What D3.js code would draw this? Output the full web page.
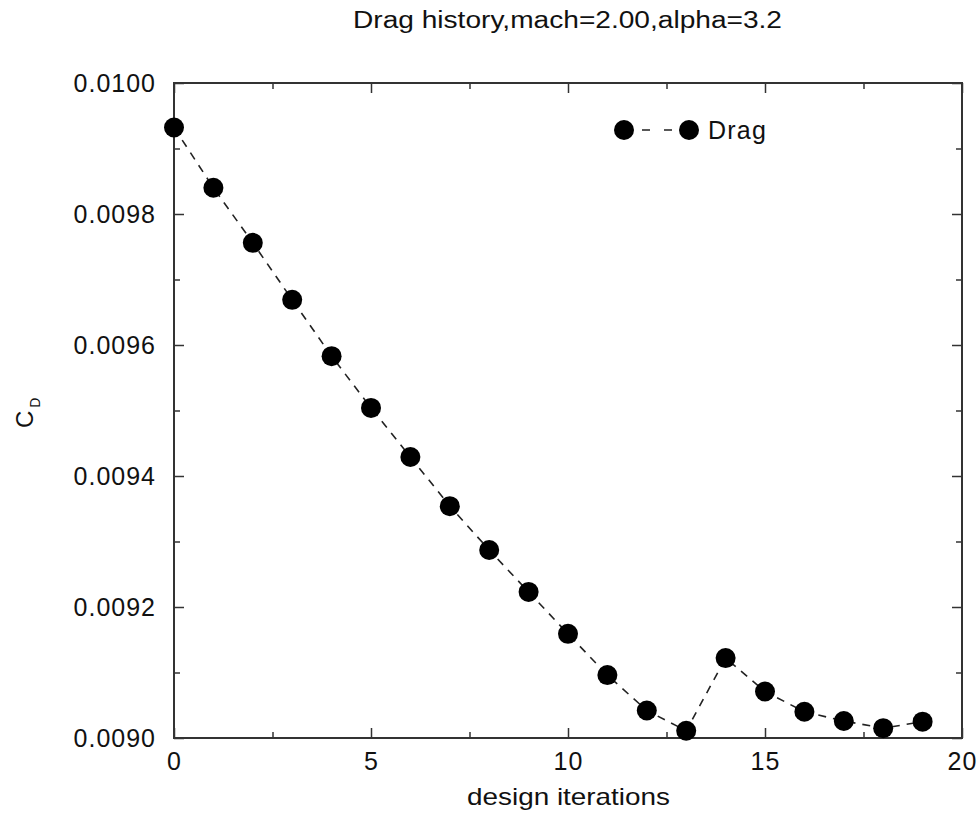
<!DOCTYPE html>
<html>
<head>
<meta charset="utf-8">
<script src="https://cdn.jsdelivr.net/npm/d3@7"></script>
<style>
  html, body { margin: 0; padding: 0; background: #fff; }
  svg { display: block; }
  text { font-family: "Liberation Sans", Arial, Helvetica, sans-serif; fill: #111; }
</style>
</head>
<body>
<svg id="chart" width="978" height="814"></svg>
<script>
// Drag coefficient per design iteration
const iterations = [0, 1, 2, 3, 4, 5, 6, 7, 8, 9, 10, 11, 12, 13, 14, 15, 16, 17, 18, 19];
const dragValues = [0.009932, 0.009840, 0.009756, 0.009669, 0.009583, 0.009504, 0.009429,
                    0.009354, 0.009287, 0.009223, 0.009159, 0.009096, 0.009042, 0.009011,
                    0.009122, 0.009071, 0.009040, 0.009026, 0.009015, 0.009025];
const xMajorTicks = [0, 5, 10, 15, 20];
const xMinorTicks = [2.5, 7.5, 12.5, 17.5];
const yMajorTicks = [0.0090, 0.0092, 0.0094, 0.0096, 0.0098, 0.0100];
const yMinorTicks = [0.0091, 0.0093, 0.0095, 0.0097, 0.0099];
const titleText = "Drag history,mach=2.00,alpha=3.2";
const xLabel = "design iterations";
const seriesName = "Drag";

const svg = d3.select("#chart");
const plotL = 174, plotR = 962, plotT = 83, plotB = 738;

const x = d3.scaleLinear().domain([0, 20]).range([plotL, plotR]);
const y = d3.scaleLinear().domain([0.0090, 0.0100]).range([plotB, plotT]);

const axisColor = "#333";

function styleAxis(g) {
  g.selectAll(".domain").remove();
  g.selectAll(".tick line").attr("stroke", axisColor).attr("stroke-width", 1.5);
  g.selectAll(".tick text").attr("font-size", 25).attr("fill", "#111")
    .attr("letter-spacing", 1)
    .attr("font-family", "Liberation Sans, Arial, sans-serif");
}

// bottom axis with labels, inward ticks
svg.append("g").attr("transform", `translate(0,${plotB})`)
  .call(d3.axisBottom(x).tickValues(xMajorTicks).tickSizeInner(-10).tickSizeOuter(0)
    .tickPadding(14).tickFormat(d3.format("d")))
  .call(styleAxis);
svg.append("g").attr("transform", `translate(0,${plotB})`)
  .call(d3.axisBottom(x).tickValues(xMinorTicks).tickSizeInner(-6).tickSizeOuter(0).tickFormat(""))
  .call(styleAxis);
// top axis ticks
svg.append("g").attr("transform", `translate(0,${plotT})`)
  .call(d3.axisTop(x).tickValues(xMajorTicks).tickSizeInner(-10).tickSizeOuter(0).tickFormat(""))
  .call(styleAxis);
svg.append("g").attr("transform", `translate(0,${plotT})`)
  .call(d3.axisTop(x).tickValues(xMinorTicks).tickSizeInner(-6).tickSizeOuter(0).tickFormat(""))
  .call(styleAxis);
// left axis with labels
svg.append("g").attr("transform", `translate(${plotL},0)`)
  .call(d3.axisLeft(y).tickValues(yMajorTicks).tickSizeInner(-10).tickSizeOuter(0)
    .tickPadding(18).tickFormat(d3.format(".4f")))
  .call(styleAxis);
svg.append("g").attr("transform", `translate(${plotL},0)`)
  .call(d3.axisLeft(y).tickValues(yMinorTicks).tickSizeInner(-6).tickSizeOuter(0).tickFormat(""))
  .call(styleAxis);
// right axis ticks
svg.append("g").attr("transform", `translate(${plotR},0)`)
  .call(d3.axisRight(y).tickValues(yMajorTicks).tickSizeInner(-10).tickSizeOuter(0).tickFormat(""))
  .call(styleAxis);
svg.append("g").attr("transform", `translate(${plotR},0)`)
  .call(d3.axisRight(y).tickValues(yMinorTicks).tickSizeInner(-6).tickSizeOuter(0).tickFormat(""))
  .call(styleAxis);

// plot frame
svg.append("rect")
  .attr("x", plotL).attr("y", plotT)
  .attr("width", plotR - plotL).attr("height", plotB - plotT)
  .attr("fill", "none").attr("stroke", axisColor).attr("stroke-width", 2);

// dashed connecting line
const pts = iterations.map((d, i) => [d, dragValues[i]]);
svg.append("path")
  .datum(pts)
  .attr("d", d3.line().x(d => x(d[0])).y(d => y(d[1])))
  .attr("fill", "none")
  .attr("stroke", "#222")
  .attr("stroke-width", 1.6)
  .attr("stroke-dasharray", "8,7");

// markers
svg.append("g").selectAll("circle")
  .data(pts)
  .join("circle")
  .attr("cx", d => x(d[0]))
  .attr("cy", d => y(d[1]))
  .attr("r", 10)
  .attr("fill", "#000");

// legend
const legY = 130;
svg.append("line")
  .attr("x1", 642).attr("x2", 672).attr("y1", legY).attr("y2", legY)
  .attr("stroke", "#222").attr("stroke-width", 1.6)
  .attr("stroke-dasharray", "8,14,8");
svg.append("circle").attr("cx", 624).attr("cy", legY).attr("r", 10).attr("fill", "#000");
svg.append("circle").attr("cx", 689).attr("cy", legY).attr("r", 10).attr("fill", "#000");
svg.append("text")
  .attr("x", 708).attr("y", legY + 9)
  .attr("font-size", 25)
  .attr("letter-spacing", 1.2)
  .text(seriesName);

// title
svg.append("text")
  .attr("x", 353).attr("y", 28)
  .attr("font-size", 23)
  .attr("textLength", 429)
  .attr("lengthAdjust", "spacingAndGlyphs")
  .text(titleText);

// x axis label
svg.append("text")
  .attr("x", 467).attr("y", 805)
  .attr("font-size", 24)
  .attr("textLength", 203)
  .attr("lengthAdjust", "spacingAndGlyphs")
  .text(xLabel);

// y axis label: C with subscript D, rotated
const yl = svg.append("text")
  .attr("transform", "translate(33,428) rotate(-90)")
  .attr("font-size", 24);
yl.append("tspan").text("C");
yl.append("tspan").attr("font-size", 14).attr("dx", 3).attr("dy", 7).text("D");
</script>
</body>
</html>
